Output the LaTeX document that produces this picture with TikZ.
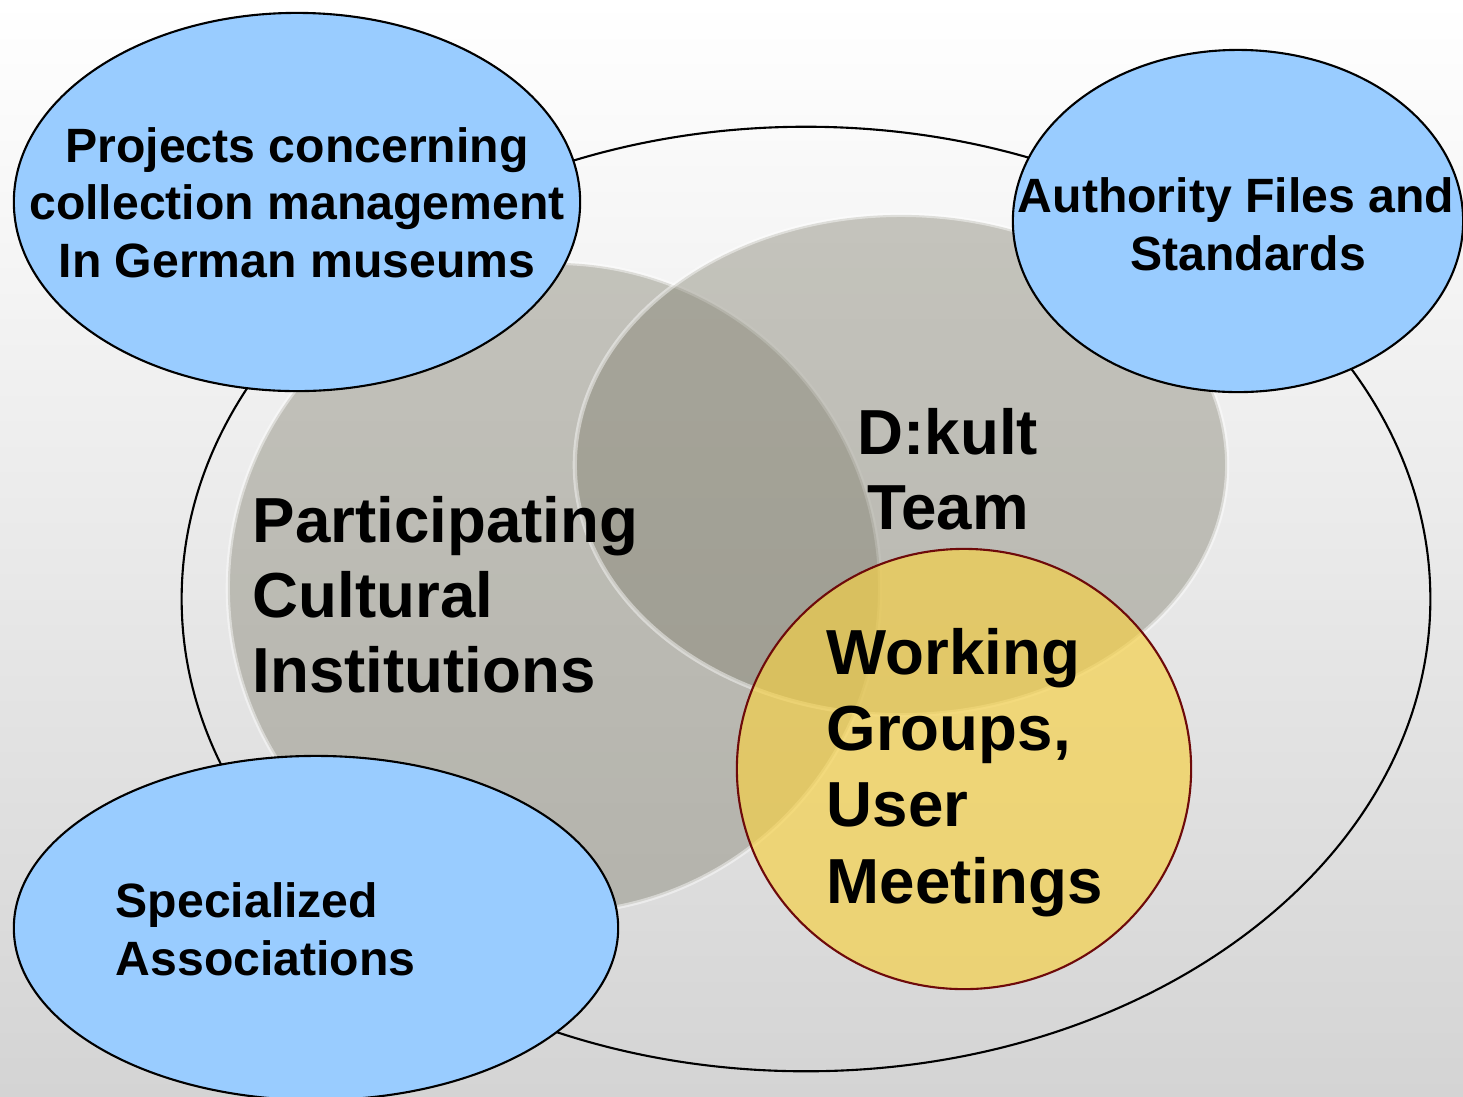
\documentclass[tikz,border=0pt]{standalone}
\usepackage{fontspec}
\setmainfont{Liberation Sans}
\definecolor{skyblue}{RGB}{153,204,255}
\definecolor{venngray}{RGB}{127,125,108}
\definecolor{vennyellow}{RGB}{245,208,70}
\definecolor{darkrim}{RGB}{110,10,10}
\definecolor{bgbottom}{RGB}{212,212,212}

\begin{document}
\begin{tikzpicture}[x=0.01cm,y=-0.01cm,
	blue blob/.style={draw=black,line width=0.6pt,fill=skyblue},
	gray blob/.style={fill=venngray,fill opacity=0.42,draw=white,draw opacity=0.45,line width=1.2pt},
	yellow blob/.style={fill=vennyellow,fill opacity=0.68,draw=darkrim,line width=0.6pt},
	small label/.style={inner sep=0pt,font=\fontsize{13.7}{16.3}\selectfont\bfseries},
	big label/.style={inner sep=0pt,font=\fontsize{18.1}{21.3}\selectfont\bfseries}]

	\useasboundingbox (0,0) rectangle (1463,1096);
	\shade[top color=white,bottom color=bgbottom] (0,0) rectangle (1463,1096);

	\draw[line width=0.6pt] (806,599) ellipse [x radius=6.24cm, y radius=4.72cm];
	\draw[gray blob] (554,588) ellipse [x radius=3.26cm, y radius=3.25cm];
	\draw[gray blob] (901,465) ellipse [x radius=3.26cm, y radius=2.50cm];
	\draw[yellow blob] (964,769) ellipse [x radius=2.27cm, y radius=2.20cm];

	\draw[blue blob] (297,202) ellipse [x radius=2.83cm, y radius=1.89cm];
	\draw[blue blob] (1238,221) ellipse [x radius=2.25cm, y radius=1.71cm];
	\draw[blue blob] (316,928) ellipse [x radius=3.02cm, y radius=1.72cm];

	\node[small label,align=center,anchor=base] (projects) at (297,277) {Projects concerning\\collection management\\In German museums};
	\node[small label,align=center,anchor=base] (authority) at (1236,270) {Authority Files and\\\hspace*{0.5em}Standards};
	\node[small label,align=left,anchor=base west] (associations) at (115,975) {Specialized\\Associations};
	\node[big label,align=left,anchor=base west] (institutions) at (252,692) {Participating\\Cultural\\Institutions};
	\node[big label,align=center,anchor=base] (team) at (948,529) {D:kult\\Team};
	\node[big label,align=left,anchor=base west,font=\fontsize{18.1}{21.7}\selectfont\bfseries] (groups) at (826,903) {Working\\Groups,\\User\\Meetings};
\end{tikzpicture}
\end{document}
